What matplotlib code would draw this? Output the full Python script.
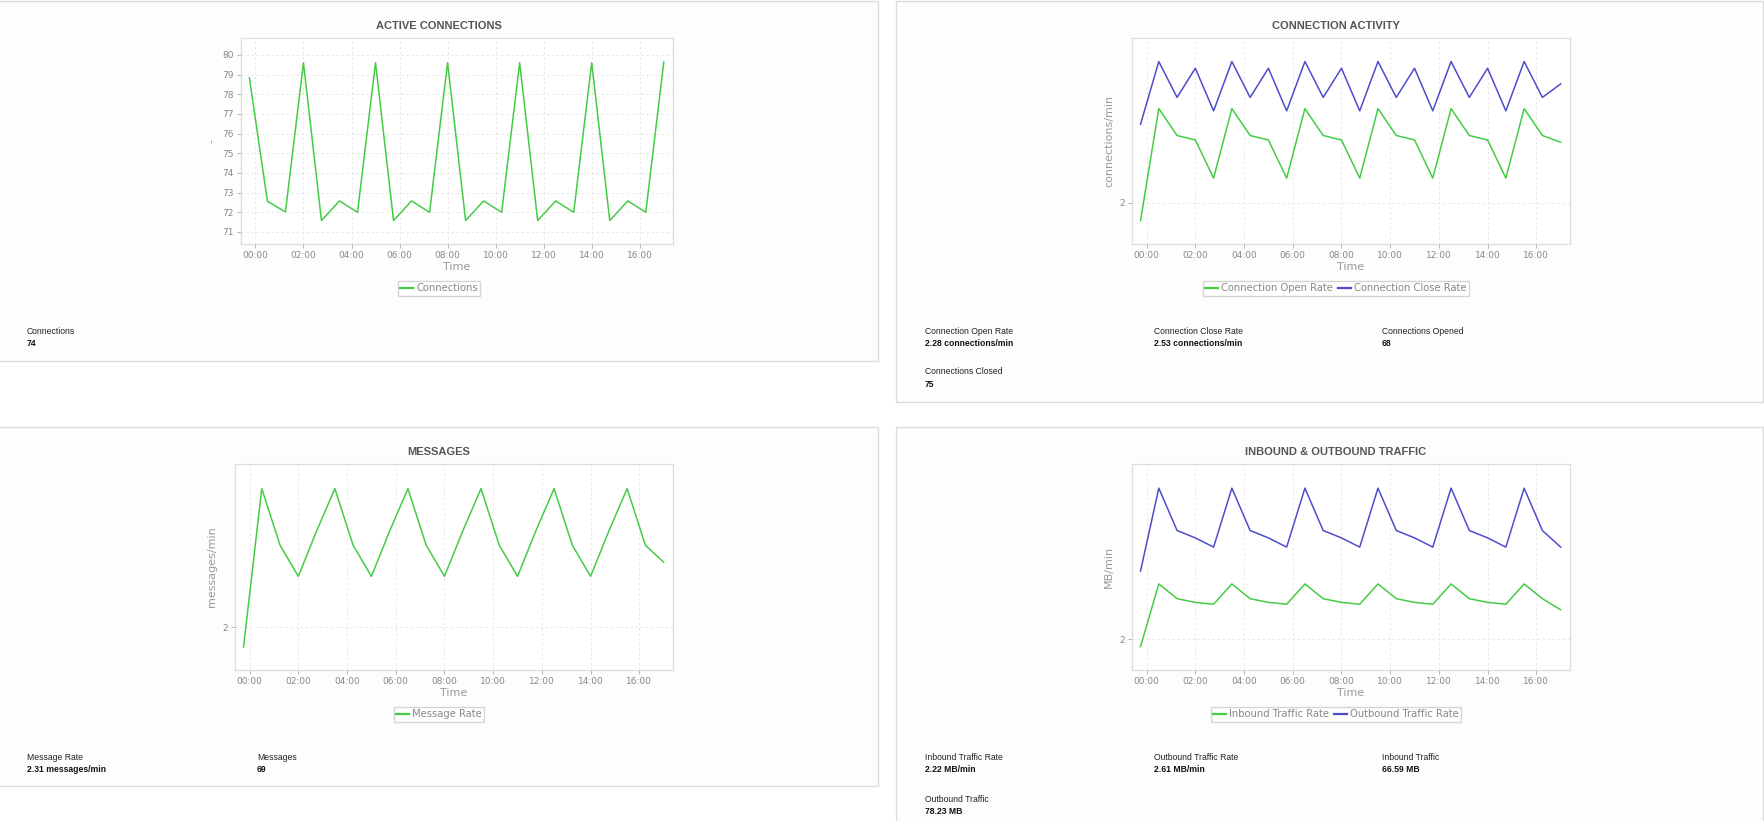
import matplotlib
matplotlib.use("Agg")
import matplotlib.pyplot as plt
import matplotlib.dates as mdates
from matplotlib.patches import Rectangle
from matplotlib.lines import Line2D
import pandas as pd

# ---- data ----
time_labels = ["2024-01-01 23:45", "2024-01-02 00:30", "2024-01-02 01:15", "2024-01-02 02:00",
               "2024-01-02 02:45", "2024-01-02 03:30", "2024-01-02 04:15", "2024-01-02 05:00",
               "2024-01-02 05:45", "2024-01-02 06:30", "2024-01-02 07:15", "2024-01-02 08:00",
               "2024-01-02 08:45", "2024-01-02 09:30", "2024-01-02 10:15", "2024-01-02 11:00",
               "2024-01-02 11:45", "2024-01-02 12:30", "2024-01-02 13:15", "2024-01-02 14:00",
               "2024-01-02 14:45", "2024-01-02 15:30", "2024-01-02 16:15", "2024-01-02 17:00"]

connections = [78.83, 72.56, 72.02, 79.60, 71.58, 72.58, 72.00, 79.60, 71.58, 72.58, 72.00, 79.60,
               71.58, 72.58, 72.00, 79.60, 71.58, 72.58, 72.00, 79.60, 71.58, 72.58, 72.00, 79.64]

open_rate = [1.92, 2.42, 2.30, 2.28, 2.11, 2.42, 2.30, 2.28, 2.11, 2.42, 2.30, 2.28,
             2.11, 2.42, 2.30, 2.28, 2.11, 2.42, 2.30, 2.28, 2.11, 2.42, 2.30, 2.27]
close_rate = [2.35, 2.63, 2.47, 2.60, 2.41, 2.63, 2.47, 2.60, 2.41, 2.63, 2.47, 2.60,
              2.41, 2.63, 2.47, 2.60, 2.41, 2.63, 2.47, 2.60, 2.41, 2.63, 2.47, 2.53]

message_rate = [1.93, 2.49, 2.29, 2.18, 2.34, 2.49, 2.29, 2.18, 2.34, 2.49, 2.29, 2.18,
                2.34, 2.49, 2.29, 2.18, 2.34, 2.49, 2.29, 2.18, 2.34, 2.49, 2.29, 2.23]

inbound_rate = [1.96, 2.30, 2.22, 2.20, 2.19, 2.30, 2.22, 2.20, 2.19, 2.30, 2.22, 2.20,
                2.19, 2.30, 2.22, 2.20, 2.19, 2.30, 2.22, 2.20, 2.19, 2.30, 2.22, 2.16]
outbound_rate = [2.37, 2.82, 2.59, 2.55, 2.50, 2.82, 2.59, 2.55, 2.50, 2.82, 2.59, 2.55,
                 2.50, 2.82, 2.59, 2.55, 2.50, 2.82, 2.59, 2.55, 2.50, 2.82, 2.59, 2.50]

stats_conn = [("Connections", "74")]
stats_activity = [("Connection Open Rate", "2.28 connections/min"),
                  ("Connection Close Rate", "2.53 connections/min"),
                  ("Connections Opened", "68"),
                  ("Connections Closed", "75")]
stats_msg = [("Message Rate", "2.31 messages/min"), ("Messages", "69")]
stats_traffic = [("Inbound Traffic Rate", "2.22 MB/min"),
                 ("Outbound Traffic Rate", "2.61 MB/min"),
                 ("Inbound Traffic", "66.59 MB"),
                 ("Outbound Traffic", "78.23 MB")]

times = pd.to_datetime(time_labels)
x0 = pd.Timestamp("2024-01-02 00:00")

GREEN = "#44cc44"
BLUE = "#4d4dcc"
W, H = 1765, 821

fig = plt.figure(figsize=(W / 100, H / 100), dpi=100)
fig.patch.set_facecolor("white")
stat_font = ["Liberation Sans Narrow", "Liberation Sans", "DejaVu Sans"]


def card(l, t, r, b):
    fig.patches.append(Rectangle((l / W, 1 - b / H), (r - l) / W, (b - t) / H,
                                 transform=fig.transFigure, facecolor="#fdfdfd",
                                 edgecolor="#dcdcdc", linewidth=1.0, zorder=-5))


def px_axes(l, t, r, b):
    return fig.add_axes([l / W, 1 - b / H, (r - l) / W, (b - t) / H])


def style(ax, title, tx, ylabel, ylim, yticks):
    ax.set_facecolor("white")
    for s in ax.spines.values():
        s.set_color("#dddddd")
        s.set_linewidth(0.9)
    ax.grid(True, color="#e4e4e4", linestyle=(0, (3, 3)), linewidth=0.6)
    ax.set_axisbelow(True)
    ax.tick_params(axis="both", colors="#aaaaaa", labelcolor="#888888",
                   labelsize=6.5, length=3, width=0.6, pad=2)
    ax.set_xlim(x0 - pd.Timedelta(minutes=36), x0 + pd.Timedelta(hours=17, minutes=23))
    ax.xaxis.set_major_locator(mdates.HourLocator(byhour=range(0, 24, 2)))
    ax.xaxis.set_major_formatter(mdates.DateFormatter("%H:%M"))
    ax.set_ylim(*ylim)
    ax.set_yticks(yticks)
    ax.set_xlabel("Time", color="#999999", fontsize=8, labelpad=1.5)
    ax.set_ylabel(ylabel, color="#999999", fontsize=8, labelpad=4)
    pos = ax.get_position()
    fig.text(tx / W, pos.y1 + 12 / H, title, ha="center", va="center",
             fontsize=8, fontweight="bold", color="#555555", family="Liberation Sans")


def legend(ax, lx, ly, items):
    handles = [Line2D([], [], color=c, lw=1.6) for c, _ in items]
    fig.legend(handles, [n for _, n in items], loc="center",
               bbox_to_anchor=(lx / W, 1 - ly / H), ncol=len(items), fontsize=7.2,
               frameon=True, fancybox=False, edgecolor="#cccccc", labelcolor="#888888",
               handlelength=1.3, handletextpad=0.3, columnspacing=0.5, borderpad=0.25,
               borderaxespad=0)


def stats(items, positions):
    for (label, value), (sx, sy) in zip(items, positions):
        fig.text(sx / W, 1 - sy / H, label, fontsize=6.2, color="#222222",
                 va="center", family=stat_font)
        fig.text(sx / W, 1 - (sy + 12.5) / H, value, fontsize=6.2, color="#111111",
                 va="center", fontweight="bold", family=stat_font)


# cards
card(-2, 1, 878, 361)
card(896, 1, 1763, 402)
card(-2, 427, 878, 786)
card(896, 427, 1763, 830)

# ACTIVE CONNECTIONS
ax1 = px_axes(241, 38, 673, 244)
ax1.plot(times, connections, color=GREEN, lw=1.1)
style(ax1, "ACTIVE CONNECTIONS", 439, "-", (70.39, 80.86), range(71, 81))
legend(ax1, 439, 288, [(GREEN, "Connections")])
stats(stats_conn, [(27, 331)])

# CONNECTION ACTIVITY
ax2 = px_axes(1132, 38, 1570, 244)
ax2.plot(times, open_rate, color=GREEN, lw=1.1)
ax2.plot(times, close_rate, color=BLUE, lw=1.1)
style(ax2, "CONNECTION ACTIVITY", 1336, "connections/min", (1.816, 2.735), [2])
legend(ax2, 1336, 288, [(GREEN, "Connection Open Rate"), (BLUE, "Connection Close Rate")])
stats(stats_activity, [(925, 331), (1154, 331), (1382, 331), (925, 372)])

# MESSAGES
ax3 = px_axes(235, 464, 673, 670)
ax3.plot(times, message_rate, color=GREEN, lw=1.1)
style(ax3, "MESSAGES", 439, "messages/min", (1.849, 2.577), [2])
legend(ax3, 439, 714, [(GREEN, "Message Rate")])
stats(stats_msg, [(27, 757), (257, 757)])

# INBOUND & OUTBOUND TRAFFIC
ax4 = px_axes(1132, 464, 1570, 670)
ax4.plot(times, inbound_rate, color=GREEN, lw=1.1)
ax4.plot(times, outbound_rate, color=BLUE, lw=1.1)
style(ax4, "INBOUND & OUTBOUND TRAFFIC", 1336, "MB/min", (1.833, 2.951), [2])
legend(ax4, 1336, 714, [(GREEN, "Inbound Traffic Rate"), (BLUE, "Outbound Traffic Rate")])
stats(stats_traffic, [(925, 757), (1154, 757), (1382, 757), (925, 799)])

fig.savefig("out.png", dpi=100, facecolor="white")
